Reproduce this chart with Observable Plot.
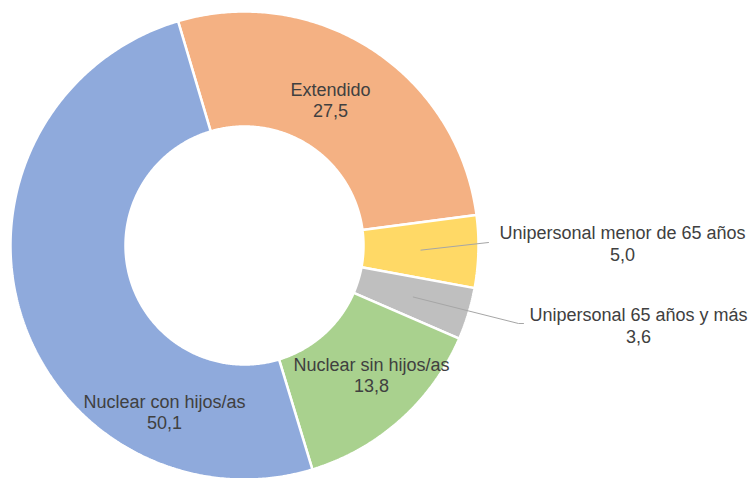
<!DOCTYPE html>
<html><head><meta charset="utf-8">
<script src="https://cdn.jsdelivr.net/npm/d3@7"></script>
<script src="https://cdn.jsdelivr.net/npm/@observablehq/plot@0.6"></script>
<style>body{margin:0;background:#fff}#chart svg{display:block}</style>
</head><body><div id="chart"></div>
<script>
// ---- data ----
const categories = ["Extendido", "Unipersonal menor de 65 años", "Unipersonal 65 años y más", "Nuclear sin hijos/as", "Nuclear con hijos/as"];
const values = [27.5, 5.0, 3.6, 13.8, 50.1];
const valueLabels = ["27,5", "5,0", "3,6", "13,8", "50,1"];
const colors = ["#F4B183", "#FFD966", "#BFBFBF", "#A9D18E", "#8FAADC"];

// ---- layout ----
const W = 751, H = 478;
const cx = 244, cy = 245, R = 234, r0 = 119;
const startDeg = -16.5;
const labelPos = [[330, 99], [622, 242.5], [638, 324.5], [371, 374], [164, 411]];
const leaderEnd = [null, [[488, 242]], [[518, 323], [523, 323]], null, null];

const a0 = startDeg * Math.PI / 180;
const arcs = d3.pie().sort(null).startAngle(a0).endAngle(a0 + 2 * Math.PI)(values);
const pt = (rad, a) => ({x: cx + rad * Math.sin(a), y: cy - rad * Math.cos(a)});

const slicePts = [];
arcs.forEach((arc, i) => {
  const n = Math.max(4, Math.ceil((arc.endAngle - arc.startAngle) / (Math.PI / 360)));
  for (let k = 0; k <= n; k++) {
    const a = arc.startAngle + (arc.endAngle - arc.startAngle) * k / n;
    slicePts.push({...pt(R, a), s: i, color: colors[i]});
  }
  for (let k = n; k >= 0; k--) {
    const a = arc.startAngle + (arc.endAngle - arc.startAngle) * k / n;
    slicePts.push({...pt(r0, a), s: i, color: colors[i]});
  }
});

const leaderPts = [];
arcs.forEach((arc, i) => {
  if (!leaderEnd[i]) return;
  const mid = (arc.startAngle + arc.endAngle) / 2;
  leaderPts.push({...pt((R + r0) / 2, mid), s: i});
  leaderEnd[i].forEach(([x, y]) => leaderPts.push({x, y, s: i}));
});

const labels = categories.map((c, i) => ({x: labelPos[i][0], y: labelPos[i][1], text: c + "\n" + valueLabels[i]}));

const chart = Plot.plot({
  width: W, height: H, margin: 0,
  style: {background: "#fff"},
  x: {domain: [0, W], range: [0, W], axis: null},
  y: {domain: [0, H], range: [0, H], axis: null},
  color: {type: "identity"},
  marks: [
    Plot.line(slicePts, {x: "x", y: "y", z: "s", fill: "color", stroke: "#fff", strokeWidth: 2.5, strokeLinejoin: "miter", curve: "linear-closed"}),
    Plot.line(leaderPts, {x: "x", y: "y", z: "s", stroke: "#A6A6A6", strokeWidth: 1}),
    Plot.text(labels, {x: "x", y: "y", text: "text", textAnchor: "middle", lineAnchor: "middle", lineHeight: 1.2,
      fontSize: 18, fontFamily: "Liberation Sans, Arial, sans-serif", fill: "#404040"})
  ]
});
document.getElementById("chart").appendChild(chart);
</script>
</body></html>
